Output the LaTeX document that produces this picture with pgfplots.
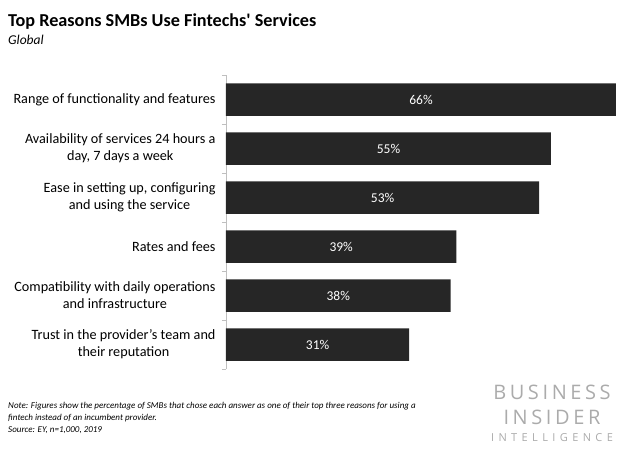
\documentclass[border=0pt]{standalone}
\usepackage{pgfplots}
\pgfplotsset{compat=1.18}
\usepackage{fontspec}
\setmainfont{Carlito}
\newfontfamily\titlefont{Carlito}[BoldFont=Carlito Bold]
\newfontfamily\logofont[LetterSpace=18]{Open Sans}
\newfontfamily\logofontsmall[LetterSpace=40]{Open Sans}
\definecolor{bardark}{HTML}{262626}
\definecolor{axisgray}{HTML}{BFBFBF}
\definecolor{logogray}{HTML}{ABABAB}
\begin{document}
\begin{tikzpicture}[x=1pt,y=1pt]
\path (0,0) rectangle (640,453);
\node[anchor=base west, inner sep=0] at (8,453-27) {\titlefont\fontsize{18.2}{20}\selectfont\bfseries Top Reasons SMBs Use Fintechs' Services};
\node[anchor=base west, inner sep=0] at (8,453-45) {\fontsize{13.5}{15}\selectfont\itshape Global};
\begin{axis}[
  at={(226pt,84pt)}, anchor=south west,
  scale only axis, width=390pt, height=294pt,
  xbar, bar width=32.5pt,
  xmin=0, xmax=66,
  ymin=-0.5, ymax=5.5, y dir=reverse,
  axis x line=none, axis y line*=left,
  y axis line style={axisgray, line width=0.8pt},
  ytick={0,...,5},
  yticklabels={Range of functionality and features,
    {Availability of services 24 hours a\\day, 7 days a week},
    {Ease in setting up, configuring\\and using the service},
    Rates and fees,
    {Compatibility with daily operations\\and infrastructure},
    {Trust in the provider’s team and\\their reputation}},
  major tick length=0pt,
  minor ytick={-0.5,0.5,...,5.5},
  minor tick length=4pt, tick align=outside,
  minor tick style={axisgray, line width=0.8pt},
  yticklabel style={align=center, font=\fontsize{14.2}{17}\selectfont, xshift=-7pt},
  /pgf/number format/assume math mode=true,
  nodes near coords={\pgfmathprintnumber{\pgfplotspointmeta}\%},
  point meta=x,
  visualization depends on={x \as \rawx},
  every node near coord/.append style={anchor=center, text=white,
    font=\fontsize{13.5}{15}\selectfont,
    shift={(axis direction cs:-\rawx/2,0)}},
  clip=false,
]
\addplot[fill=bardark, draw=none] coordinates {
  (66,0) (55,1) (53,2) (39,3) (38,4) (31,5)};
\end{axis}
\node[anchor=base west, inner sep=0, align=left] at (8,453-432) {\fontsize{9}{12}\selectfont\itshape Note: Figures show the percentage of SMBs that chose each answer as one of their top three reasons for using a\\ \fontsize{9}{12}\selectfont\itshape fintech instead of an incumbent provider.\\ \fontsize{9}{12}\selectfont\itshape Source: EY, n=1,000, 2019};
\node[anchor=base, inner sep=0, text=logogray] at (552,453-399) {\logofont\fontsize{20}{20}\selectfont BUSINESS};
\node[anchor=base, inner sep=0, text=logogray] at (552,453-424) {\logofont\fontsize{20}{20}\selectfont INSIDER};
\node[anchor=base, inner sep=0, text=logogray] at (552,453-441) {\logofontsmall\fontsize{11}{12}\selectfont INTELLIGENCE};
\end{tikzpicture}
\end{document}
